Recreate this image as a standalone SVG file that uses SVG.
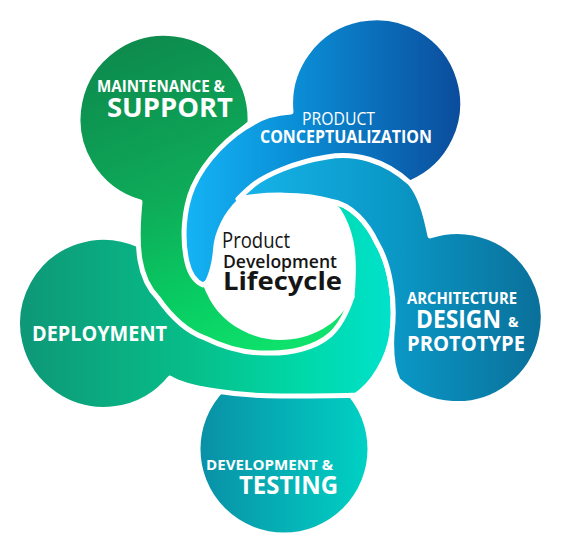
<svg xmlns="http://www.w3.org/2000/svg" width="562" height="553" viewBox="0 0 562 553">
<defs>
 <linearGradient id="gTest" gradientUnits="userSpaceOnUse" x1="198" y1="0" x2="370" y2="0">
  <stop offset="0" stop-color="#0a8fa6"/><stop offset="1" stop-color="#00d2c4"/>
 </linearGradient>
 <linearGradient id="gDep" gradientUnits="userSpaceOnUse" x1="18" y1="0" x2="395" y2="0">
  <stop offset="0" stop-color="#0e9777"/><stop offset="0.45" stop-color="#07bd88"/><stop offset="0.75" stop-color="#00d8a8"/><stop offset="1" stop-color="#00e2cc"/>
 </linearGradient>
 <linearGradient id="gMaint" gradientUnits="userSpaceOnUse" x1="150" y1="40" x2="280" y2="350">
  <stop offset="0" stop-color="#0d8c4e"/><stop offset="0.45" stop-color="#0eab59"/><stop offset="0.75" stop-color="#08cc62"/><stop offset="1" stop-color="#0ee26c"/>
 </linearGradient>
 <linearGradient id="gProd" gradientUnits="userSpaceOnUse" x1="185" y1="0" x2="462" y2="0">
  <stop offset="0" stop-color="#14b4f4"/><stop offset="0.4" stop-color="#0a8ed6"/><stop offset="1" stop-color="#0b4c9c"/>
 </linearGradient>
 <linearGradient id="gArch" gradientUnits="userSpaceOnUse" x1="238" y1="0" x2="548" y2="0">
  <stop offset="0" stop-color="#16b4ea"/><stop offset="0.5" stop-color="#0a98c6"/><stop offset="1" stop-color="#0a6e98"/>
 </linearGradient>
 <style>
  .lobe{stroke:#ffffff;stroke-width:5;stroke-linejoin:round}
  .lbl{font-family:"Open Sans","Liberation Sans",sans-serif;font-weight:700;fill:#ffffff}
  .ctr{font-family:"Open Sans","Liberation Sans",sans-serif;fill:#151515}
 </style>
</defs>
<rect width="562" height="553" fill="#ffffff"/>

<g id="testing">
 <circle class="lobe" cx="284" cy="449" r="86" fill="url(#gTest)"/>
 <text class="lbl"><tspan x="206" y="470" font-size="15" textLength="127" lengthAdjust="spacingAndGlyphs">DEVELOPMENT &amp;</tspan><tspan x="239" y="494" font-size="25" textLength="99" lengthAdjust="spacingAndGlyphs">TESTING</tspan></text>
</g>

<g id="deployment">
 <path class="lobe" fill="url(#gDep)" d="M 139 245 A 86 86 0 1 0 170 378 C 185 388, 235 396, 281 396 C 320 396, 345 396, 356 395 C 372 385, 388 360, 392 333 C 396 300, 390 265, 377 243 C 368 224, 352 204, 330 201 C 343 212, 352 235, 353 258 C 354 272, 353 285, 352 297 L 300 320 L 220 300 L 165 290 L 150 250 Z"/>
 <text class="lbl" x="32" y="341" font-size="20.5" textLength="135" lengthAdjust="spacingAndGlyphs">DEPLOYMENT</text>
</g>

<g id="maintenance">
 <path class="lobe" fill="url(#gMaint)" d="M 140 202 C 138 222, 137 242, 140 260 C 143 278, 150 290, 158 298 C 172 318, 188 332, 205 338 C 225 348, 245 353, 265 353 C 290 354, 315 348, 330 335 C 340 326, 347 312, 352 297 L 300 300 L 230 260 L 200 200 L 230 140 L 250 123 A 86 86 0 1 0 140 202 Z"/>
 <text class="lbl"><tspan x="97" y="92" font-size="16.5" textLength="128" lengthAdjust="spacingAndGlyphs">MAINTENANCE &amp;</tspan><tspan x="107" y="117" font-size="26" textLength="126" lengthAdjust="spacingAndGlyphs">SUPPORT</tspan></text>
</g>

<g id="product">
 <path class="lobe" fill="url(#gProd)" d="M 291 112 C 275 113, 262 117, 253 123 C 230 135, 205 160, 193 187 C 183 210, 182 240, 187 262 C 190 275, 196 282, 203 285 L 240 260 L 300 200 L 360 175 L 410 183 A 86 86 0 1 0 291 112 Z"/>
 <text class="lbl"><tspan x="302" y="125" font-size="17.5" font-weight="500" textLength="73" lengthAdjust="spacingAndGlyphs">PRODUCT</tspan><tspan x="260" y="143" font-size="17.5" textLength="172" lengthAdjust="spacingAndGlyphs">CONCEPTUALIZATION</tspan></text>
</g>

<g id="architecture">
 <path class="lobe" fill="url(#gArch)" d="M 398 380 A 86 86 0 1 0 430 236 C 425 212, 420 195, 410 183 C 385 160, 355 152, 327 157 C 295 162, 265 175, 252 186 C 246 191, 242 195, 238 199 C 262 194, 305 193, 330 201 C 352 204, 368 224, 377 243 C 390 265, 396 300, 392 333 C 391 350, 392 368, 398 380 Z"/>
 <text class="lbl"><tspan x="407" y="304" font-size="16.5" textLength="110" lengthAdjust="spacingAndGlyphs">ARCHITECTURE</tspan><tspan x="416" y="328" font-size="25" textLength="85" lengthAdjust="spacingAndGlyphs">DESIGN</tspan><tspan x="508" y="327" font-size="14">&amp;</tspan><tspan x="407" y="351" font-size="21" textLength="118" lengthAdjust="spacingAndGlyphs">PROTOTYPE</tspan></text>
</g>

<g id="center">
 <path fill="#ffffff" d="M 238 199 C 262 194, 305 193, 330 201 C 343 212, 352 235, 353 258 C 354 272, 353 285, 352 297 C 340 325, 310 340, 280 340 C 250 340, 222 322, 210 300 C 207 294, 205 290, 203 285 C 209 275, 212 262, 213 250 C 214 232, 224 212, 238 199 Z"/>
 <text class="ctr"><tspan x="222" y="248" font-size="22" font-weight="400" textLength="68" lengthAdjust="spacingAndGlyphs">Product</tspan><tspan x="223" y="268" font-size="18.5" font-weight="600" textLength="114" lengthAdjust="spacingAndGlyphs">Development</tspan><tspan x="223" y="290" font-size="25" font-weight="700" textLength="119" lengthAdjust="spacingAndGlyphs">Lifecycle</tspan></text>
</g>
</svg>
